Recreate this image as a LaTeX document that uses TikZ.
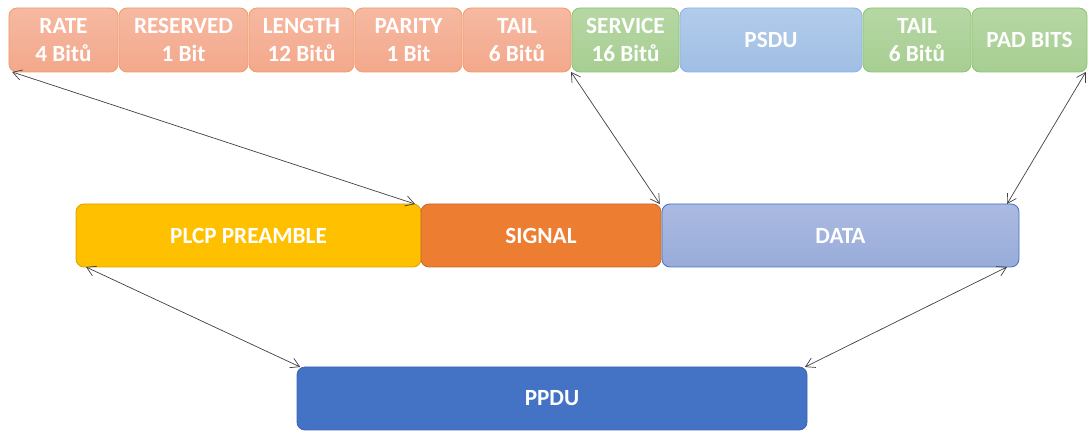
\documentclass[tikz,border=0pt]{standalone}
\usepackage{fontspec}
\setmainfont{Carlito}
\usepackage{tikz}
\usetikzlibrary{arrows.meta,positioning}
\usepackage{xcolor}
\definecolor{orTop}{HTML}{F6B9A2}
\definecolor{orBot}{HTML}{F3A88B}
\definecolor{orLine}{HTML}{F29B68}
\definecolor{grTop}{HTML}{B6D7A4}
\definecolor{grBot}{HTML}{A7CE92}
\definecolor{grLine}{HTML}{8DC46E}
\definecolor{ltTop}{HTML}{B2CCEA}
\definecolor{ltBot}{HTML}{A0BEE4}
\definecolor{ltLine}{HTML}{8DB3E2}
\definecolor{daTop}{HTML}{ABBAE1}
\definecolor{daBot}{HTML}{98ACD9}
\definecolor{pplc}{HTML}{FFC000}
\definecolor{sigc}{HTML}{ED7D31}
\definecolor{ppdc}{HTML}{4472C4}

\begin{document}
\begin{tikzpicture}[font=\fontsize{16.5}{20}\selectfont\bfseries,
  field/.style={rounded corners=0.2cm,text=white,align=center,minimum height=1.6cm,inner sep=0pt,outer sep=0pt,line width=0.6pt},
  ofield/.style={field,draw=orLine,top color=orTop,bottom color=orBot},
  gfield/.style={field,draw=grLine,top color=grTop,bottom color=grBot},
  layer/.style={field,minimum height=1.575cm},
  link/.style={{Straight Barb[length=2.2mm,width=2.6mm]}-{Straight Barb[length=2.2mm,width=2.6mm]},black!75,line width=0.5pt}]
\useasboundingbox (0,0) rectangle (27.225,10.8);
\node[ofield,minimum width=2.725cm] (rate) at (1.5875,9.8){RATE\\4 Bitů};
\node[ofield,minimum width=3.225cm,right=0.025cm of rate] (reserved){RESERVED\\1 Bit};
\node[ofield,minimum width=2.625cm,right=0.025cm of reserved] (length){LENGTH\\12 Bitů};
\node[ofield,minimum width=2.675cm,right=0.025cm of length] (parity){PARITY\\1 Bit};
\node[ofield,minimum width=2.7cm,right=0.025cm of parity] (tail){TAIL\\6 Bitů};
\node[gfield,minimum width=2.675cm,right=0.025cm of tail] (service){SERVICE\\16 Bitů};
\node[field,draw=ltLine,top color=ltTop,bottom color=ltBot,minimum width=4.55cm,right=0.025cm of service] (psdu){PSDU};
\node[gfield,minimum width=2.7cm,right=0.025cm of psdu] (tailb){TAIL\\6 Bitů};
\node[gfield,minimum width=2.875cm,right=0.025cm of tailb] (pad){PAD BITS};
\node[layer,draw=pplc!85!black,fill=pplc,minimum width=8.625cm] (plcp) at (6.2125,4.9125){PLCP PREAMBLE};
\node[layer,draw=sigc!85!black,fill=sigc,minimum width=6cm,right=0cm of plcp] (signal){SIGNAL};
\node[layer,draw=ppdc,top color=daTop,bottom color=daBot,minimum width=8.925cm,right=0.025cm of signal] (data){DATA};
\node[layer,draw=ppdc!90!black,fill=ppdc,minimum width=12.75cm] (ppdu) at (13.8,0.8375){PPDU};
\draw[link] ([xshift=0.08cm]rate.south west) -- ([xshift=-0.15cm]plcp.north east);
\draw[link] (tail.south east) -- ([xshift=-0.03cm]signal.north east);
\draw[link] ([xshift=-0.03cm]pad.south east) -- ([xshift=-0.3cm]data.north east);
\draw[link] ([xshift=0.25cm]plcp.south west) -- ([xshift=0.08cm]ppdu.north west);
\draw[link] ([xshift=-0.3cm]data.south east) -- ([xshift=-0.05cm]ppdu.north east);
\end{tikzpicture}
\end{document}
